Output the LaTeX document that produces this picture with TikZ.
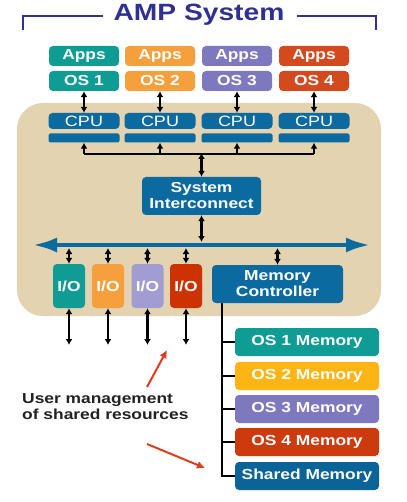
\documentclass[tikz,border=0pt]{standalone}
\usepackage{fontspec}
\setmainfont{Liberation Sans}[FakeStretch=1.2]
\usetikzlibrary{arrows.meta}
\definecolor{ttl}{HTML}{2E3192}
\definecolor{cteal}{HTML}{0E9C94}
\definecolor{corange}{HTML}{F5A03C}
\definecolor{cpurple}{HTML}{7E78BE}
\definecolor{cred}{HTML}{D24A1E}
\definecolor{cblue}{HTML}{0B6A9F}
\definecolor{clpurple}{HTML}{A19CD2}
\definecolor{cred2}{HTML}{CC3300}
\definecolor{cgold}{HTML}{FDB515}
\definecolor{cred3}{HTML}{CC3A0E}
\definecolor{cshared}{HTML}{0B6497}
\definecolor{tan}{HTML}{E3D3B1}
\definecolor{arrred}{HTML}{E03C1F}
\definecolor{txtgray}{HTML}{222222}
\tikzset{
  box/.style={rounded corners=4pt, inner sep=0pt, text=white, font=\bfseries\fontsize{14.5}{16}\selectfont, align=center},
  cpubox/.style={box, fill=cblue, font=\fontsize{15}{16}\selectfont, minimum width=71pt, minimum height=16pt},
  cpubar/.style={rounded corners=2pt, fill=cblue, minimum width=71pt, minimum height=9pt, inner sep=0pt},
  appbox/.style={box, minimum width=70pt, minimum height=20pt},
  iobox/.style={box, minimum width=32pt, minimum height=44pt},
  membox/.style={box, minimum width=144pt, minimum height=28pt},
  dbl/.style={line width=2.3pt, {Latex[length=6pt,width=7pt]}-{Latex[length=6pt,width=7pt]}},
  sarr/.style={line width=2.3pt, -{Latex[length=6pt,width=7pt]}},
  wire/.style={line width=2.3pt},
  redarr/.style={line width=2pt, arrred, -{Latex[length=8pt,width=8pt]}},
}
\begin{document}
\begin{tikzpicture}[x=1pt,y=-1pt]
\useasboundingbox (0,0) rectangle (406,502);
\fill[white] (0,0) rectangle (406,502);
% title
\node[text=ttl, font=\bfseries\fontsize{23.5}{26}\selectfont, inner sep=0pt] (title) at (199,15) {AMP System};
\coordinate (bl0) at (23,30);
\coordinate (bl1) at (103,16);
\coordinate (br0) at (376,30);
\coordinate (br1) at (297,16);
\draw[ttl, line width=2.5pt] (bl0) |- (bl1);
\draw[ttl, line width=2.5pt] (br0) |- (br1);
% tan box
\fill[tan, rounded corners=26pt] (17,103) rectangle (381,316);
% apps and os
\foreach \i/\x/\c in {1/84/cteal,2/160/corange,3/237/cpurple,4/314/cred}{
  \node[appbox, fill=\c] (app\i) at (\x,56) {Apps};
  \node[appbox, fill=\c] (os\i) at (\x,81) {OS \i};
  \node[cpubox] (cpu\i) at (\x,121) {CPU};
  \node[cpubar] (bar\i) at (\x,138) {};
  \draw[dbl] (os\i) -- (cpu\i);
  \coordinate (j\i) at (\x,154);
  \draw[sarr] (j\i) -- (bar\i.south);
}
\draw[wire] (j1) -- (j4);
% system interconnect
\node[box, fill=cblue, minimum width=119pt, minimum height=38pt] (si) at (201.5,196) {System\\Interconnect};
\coordinate (jc) at (201.5,153);
\draw[dbl] (jc) -- (si.north);
% bus
\coordinate (busL) at (33,245);
\coordinate (busR) at (370,245);
\draw[cblue, line width=4pt, {Latex[length=24pt,width=15pt]}-{Latex[length=24pt,width=15pt]}] (busL) -- (busR);
\coordinate (bsi) at (201.5,242);
\draw[dbl] (si.south) -- (bsi);
% I/O
\foreach \i/\x/\c in {1/69/cteal,2/108/corange,3/147.5/clpurple,4/186/cred2}{
  \node[iobox, fill=\c] (io\i) at (\x,286) {I/O};
  \coordinate (b\i) at (\x,248);
  \draw[dbl] (b\i) -- (io\i.north);
  \coordinate (e\i) at (\x,345);
  \draw[dbl] (io\i.south) -- (e\i);
}
% memory controller
\node[box, fill=cblue, minimum width=131pt, minimum height=38pt] (mc) at (277.5,284) {Memory\\Controller};
\coordinate (bmc) at (277.5,248);
\draw[dbl] (bmc) -- (mc.north);
% memories
\node[membox, fill=cteal] (mem1) at (307,342) {OS 1 Memory};
\node[membox, fill=cgold] (mem2) at (307,376) {OS 2 Memory};
\node[membox, fill=cpurple] (mem3) at (307,409) {OS 3 Memory};
\node[membox, fill=cred3] (mem4) at (307,442) {OS 4 Memory};
\node[membox, fill=cshared] (mem5) at (307,476) {Shared Memory};
\coordinate (m0) at (222,303);
\foreach \k in {1,...,5}{
  \draw[wire] (m0) |- (mem\k.west);
}
% annotation
\node[anchor=base west, inner sep=0pt, text=txtgray, font=\bfseries\fontsize{14.5}{16}\selectfont] (u1) at (22,403) {User management};
\node[anchor=base west, inner sep=0pt, text=txtgray, font=\bfseries\fontsize{14.5}{16}\selectfont] (u2) at (22,419) {of shared resources};
\coordinate (r1s) at (147,387);
\coordinate (r1e) at (167,350);
\coordinate (r2s) at (147,444);
\coordinate (r2e) at (205,468);
\draw[redarr] (r1s) -- (r1e);
\draw[redarr] (r2s) -- (r2e);
\end{tikzpicture}
\end{document}
